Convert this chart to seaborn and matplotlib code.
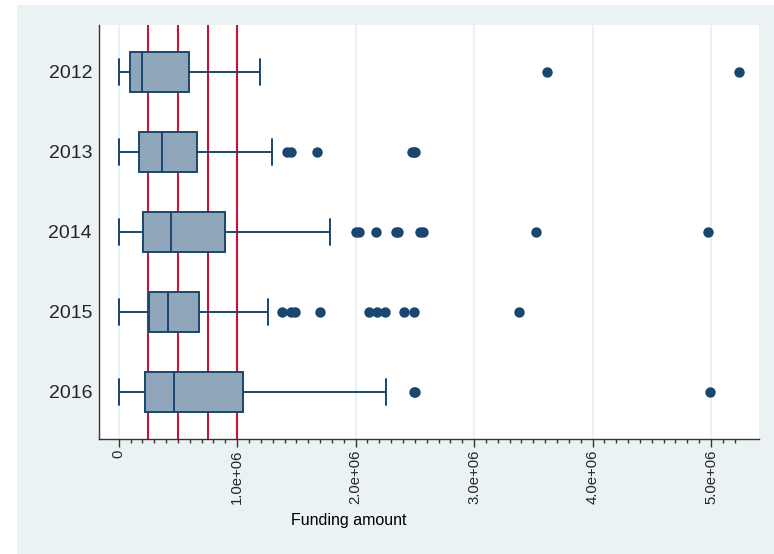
import numpy as np
import pandas as pd
import seaborn as sns
import matplotlib.pyplot as plt
from matplotlib.patches import Rectangle
from matplotlib.ticker import FixedLocator

# box summaries
years = ['2012', '2013', '2014', '2015', '2016']
whisk_lo = [5e3, 3e3, 3e3, 3e3, 2e3]
q1 = [93e3, 169e3, 208e3, 259e3, 220e3]
median = [194e3, 366e3, 445e3, 414e3, 465e3]
q3 = [591e3, 659e3, 898e3, 681e3, 1053e3]
whisk_hi = [1.19e6, 1.295e6, 1.788e6, 1.261e6, 2.258e6]
outliers = [
    [3.615e6, 5.236e6],
    [1.423e6, 1.452e6, 1.671e6, 2.476e6, 2.490e6, 2.501e6],
    [2.005e6, 2.028e6, 2.172e6, 2.338e6, 2.360e6, 2.540e6, 2.565e6, 3.52e6, 4.977e6],
    [1.381e6, 1.455e6, 1.49e6, 1.702e6, 2.113e6, 2.178e6, 2.248e6, 2.408e6, 2.493e6, 3.378e6],
    [2.49e6, 2.50e6, 4.99e6],
]
cutoffs = [250e3, 500e3, 750e3, 1e6]

# expand each summary into a sample whose quartiles reproduce it exactly
rows = []
for i, yr in enumerate(years):
    k = len(outliers[i])
    m = 4 * k + 4
    vals = ([whisk_lo[i]] * (m + k) + [q1[i]] * m + [median[i]] * m
            + [q3[i]] * m + [whisk_hi[i]] * m + outliers[i])
    rows += [(yr, v) for v in vals]
df = pd.DataFrame(rows, columns=['year', 'amount'])

sns.set_theme(style='white')
plt.rcParams['font.family'] = ['Liberation Sans', 'DejaVu Sans']

navy = '#1A476F'
fig = plt.figure(figsize=(7.74, 5.54), dpi=100)
fig.patch.set_facecolor('white')
fig.add_artist(Rectangle((17 / 774, 0), 1 - 17 / 774, 1 - 5 / 554, transform=fig.transFigure,
                         facecolor='#EAF2F3', edgecolor='none', zorder=-10))
ax = fig.add_axes([99 / 774, 1 - 439 / 554, 660 / 774, 414 / 554])
ax.set_facecolor('white')

sns.boxplot(data=df, x='amount', y='year', order=years, orient='h', width=0.5,
            color='#8FA5BA', linecolor=navy, linewidth=1.4, whis=1.5, saturation=1,
            capwidths=0.33,
            flierprops=dict(marker='o', markersize=7.5, markerfacecolor=navy,
                            markeredgecolor=navy, markeredgewidth=0),
            ax=ax)

for c in cutoffs:
    ax.axvline(c, color='#C8143C', lw=1.5, zorder=1)

ax.grid(axis='x', color='#EAF2F3', lw=1.6)
ax.grid(axis='y', visible=False)
ax.set_axisbelow(True)

ax.set_xlim(-0.166e6, 5.405e6)
ax.set_ylim(4.5875, -0.5875)
ax.set_xticks([0, 1e6, 2e6, 3e6, 4e6, 5e6])
ax.set_xticklabels(['0', '1.0e+06', '2.0e+06', '3.0e+06', '4.0e+06', '5.0e+06'], rotation=90)
ax.xaxis.set_minor_locator(FixedLocator([v for v in np.arange(1e5, 5.25e6, 1e5) if round(v / 1e5) % 10]))
ax.tick_params(axis='x', which='major', direction='out', length=6, width=1, color='#333333',
               labelsize=10.7, pad=2, bottom=True)
ax.tick_params(axis='x', which='minor', direction='out', length=3, width=1, color='#333333', bottom=True)
ax.tick_params(axis='y', length=0, labelsize=14, pad=5)

for s in ['top', 'right']:
    ax.spines[s].set_visible(False)
for s in ['left', 'bottom']:
    ax.spines[s].set_color('#333333')
    ax.spines[s].set_linewidth(1)

ax.set_xlabel('Funding amount', fontsize=11.5, color='black')
ax.xaxis.set_label_coords(0.379, -0.178)
ax.set_ylabel('')

fig.savefig('out.png', dpi=100)
